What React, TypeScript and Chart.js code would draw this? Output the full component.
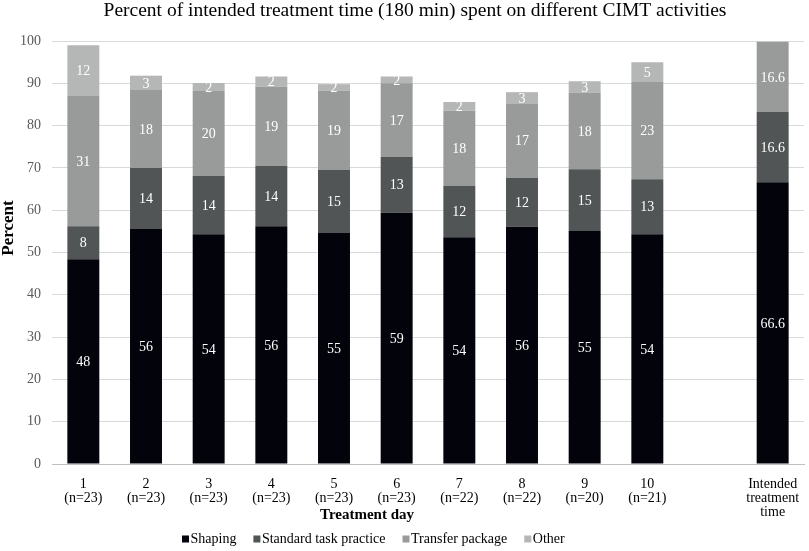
import React, { useEffect, useRef } from "react";
import { Chart, registerables } from "chart.js";

Chart.register(...registerables);

const categories: (string | string[])[] = [
  ["1", "(n=23)"],
  ["2", "(n=23)"],
  ["3", "(n=23)"],
  ["4", "(n=23)"],
  ["5", "(n=23)"],
  ["6", "(n=23)"],
  ["7", "(n=22)"],
  ["8", "(n=22)"],
  ["9", "(n=20)"],
  ["10", "(n=21)"],
  "",
  ["Intended", "treatment", "time"],
];

const shaping = [48.4, 55.7, 54.3, 56.2, 54.6, 59.4, 53.6, 56.1, 55.1, 54.3, null, 66.6];
const standardTask = [7.8, 14.3, 13.8, 14.3, 14.9, 13.2, 12.1, 11.6, 14.6, 13.0, null, 16.6];
const transferPackage = [30.8, 18.4, 20.1, 18.7, 18.7, 17.4, 17.8, 17.4, 18.1, 23.0, null, 16.6];
const other = [12.0, 3.4, 1.9, 2.4, 1.6, 1.6, 2.1, 2.8, 2.7, 4.7, null, null];

const seriesNames = ["Shaping", "Standard task practice", "Transfer package", "Other"];
const yTicks = { min: 0, max: 100, step: 10 };
const chartTitle = "Percent of intended treatment time (180 min) spent on different CIMT activities";
const xTitle = "Treatment day";
const yTitle = "Percent";

const SERIF = "'Liberation Serif', 'Times New Roman', serif";

const labelPlugin = {
  id: "segmentLabels",
  afterDatasetsDraw(chart: any) {
    const ctx = chart.ctx;
    ctx.save();
    ctx.fillStyle = "#ffffff";
    ctx.font = `14px ${SERIF}`;
    ctx.textAlign = "center";
    ctx.textBaseline = "middle";
    const last = chart.data.labels.length - 1;
    chart.data.datasets.forEach((ds: any, di: number) => {
      const meta = chart.getDatasetMeta(di);
      meta.data.forEach((el: any, i: number) => {
        const v = ds.data[i];
        if (v === null || v === undefined || v === 0) return;
        const { x, y, base } = el.getProps(["x", "y", "base"], true);
        const txt = i === last ? v.toFixed(1) : String(Math.round(v));
        ctx.fillText(txt, x, (y + base) / 2 + 1);
      });
    });
    ctx.restore();
  },
};

// Chart title, axis titles and bottom legend placed as in the reference (Excel-like, off-centre)
const decorPlugin = {
  id: "decor",
  afterDraw(chart: any) {
    const ctx = chart.ctx;
    ctx.save();
    ctx.fillStyle = "#000";
    // chart title
    ctx.font = `19.5px ${SERIF}`;
    ctx.textAlign = "center";
    ctx.textBaseline = "alphabetic";
    ctx.fillText(chartTitle, 415, 16);
    // y-axis title
    ctx.font = `bold 17px ${SERIF}`;
    ctx.textBaseline = "middle";
    ctx.translate(9, 228);
    ctx.rotate(-Math.PI / 2);
    ctx.fillText(yTitle, 0, 0);
    ctx.setTransform(1, 0, 0, 1, 0, 0);
    // x-axis title
    ctx.font = `bold 15px ${SERIF}`;
    ctx.fillText(xTitle, 367, 515);
    // legend
    ctx.font = `14px ${SERIF}`;
    ctx.textAlign = "left";
    let x = 182;
    const yc = 539;
    chart.data.datasets.forEach((ds: any) => {
      ctx.fillStyle = ds.backgroundColor;
      ctx.fillRect(x, yc - 3.5, 7, 7);
      ctx.fillStyle = "#000";
      ctx.fillText(ds.label, x + 8.5, yc);
      x += 8.5 + ctx.measureText(ds.label).width + 17;
    });
    ctx.restore();
  },
};

export default function App() {
  const ref = useRef<HTMLCanvasElement>(null);
  useEffect(() => {
    if (!ref.current) return;
    const colors = ["#02030b", "#515555", "#999b9b", "#b5b6b6"];
    const series = [shaping, standardTask, transferPackage, other];
    const chart = new Chart(ref.current, {
      type: "bar",
      data: {
        labels: categories as any,
        datasets: series.map((d, i) => ({
          label: seriesNames[i],
          data: d as any,
          backgroundColor: colors[i],
          borderWidth: 0,
          barPercentage: 0.51,
          categoryPercentage: 1.0,
        })),
      },
      options: {
        responsive: false,
        animation: false,
        devicePixelRatio: 1,
        layout: { padding: { left: 0, right: 5, top: 41, bottom: 25 } },
        plugins: {
          title: { display: false },
          legend: { display: false },
          tooltip: { enabled: false },
        },
        scales: {
          x: {
            stacked: true,
            grid: { display: false },
            border: { display: true, color: "#bfbfbf" },
            ticks: {
              color: "#000",
              font: { family: SERIF, size: 14, lineHeight: 1.0 },
              padding: 5,
              maxRotation: 0,
              autoSkip: false,
            },
            afterFit(scale: any) {
              scale.height = 62;
            },
          },
          y: {
            stacked: true,
            min: yTicks.min,
            max: yTicks.max,
            grid: { color: "#d9d9d9", drawTicks: false },
            border: { display: false },
            ticks: {
              stepSize: yTicks.step,
              color: "#595959",
              font: { family: SERIF, size: 14 },
              padding: 11,
            },
            afterFit(scale: any) {
              scale.width = 52;
            },
          },
        },
      },
      plugins: [labelPlugin, decorPlugin],
    });
    return () => chart.destroy();
  }, []);
  return (
    <div style={{ position: "absolute", left: 0, top: 0, width: 809, height: 551, background: "#fff" }}>
      <canvas ref={ref} width={809} height={551} />
    </div>
  );
}
